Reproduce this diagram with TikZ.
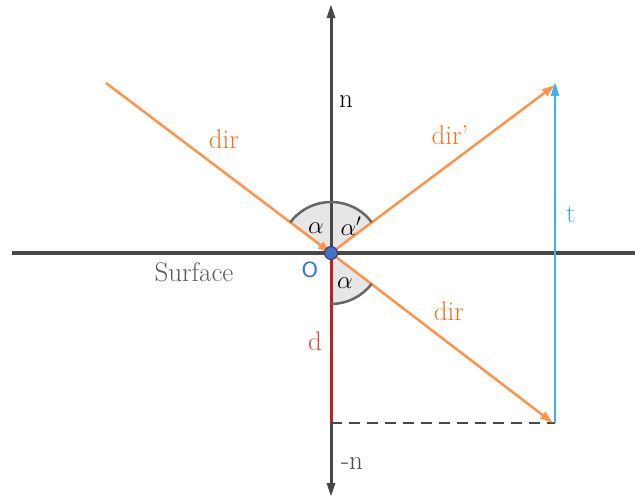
\documentclass[tikz,border=0pt]{standalone}
\usepackage{fontspec}
\newfontfamily\osans{DejaVu Sans}
\usetikzlibrary{arrows.meta}
\definecolor{axisgray}{HTML}{484848}
\definecolor{rayorange}{HTML}{FF9448}
\definecolor{txtorange}{HTML}{F0741E}
\definecolor{tblue}{HTML}{40B0F4}
\definecolor{dred}{HTML}{C41E1E}
\definecolor{dredtxt}{HTML}{E8404A}
\definecolor{arcgray}{HTML}{666666}
\definecolor{secfill}{HTML}{E6E6E6}
\definecolor{oblue}{HTML}{2F7BD0}
\definecolor{dotblue}{HTML}{4472C4}
\begin{document}
\begin{tikzpicture}[x=1pt,y=-1pt,
  lbl/.style={font=\fontsize{27}{30}\selectfont, inner sep=0pt},
  axis/.style={draw=axisgray, line width=3pt},
  ray/.style={draw=rayorange, line width=2.5pt, -{Triangle[length=13pt,width=8pt]}},
  sector/.style={fill=secfill},
  arcline/.style={draw=arcgray, line width=2.5pt}]
\useasboundingbox (0,0) rectangle (635,499);
\coordinate (O) at (331,253);
\coordinate (SL) at (12,253);
\coordinate (SR) at (635,253);
\coordinate (NT) at (331,4);
\coordinate (NB) at (331,497);
\coordinate (I) at (106,83);
\coordinate (R) at (555,85);
\coordinate (T) at (553,423);
\coordinate (D) at (331,423);
\coordinate (TB) at (555,423);
\coordinate (TT) at (555,82);
% sectors
\fill[sector] (O) -- ++(-37:51) arc[start angle=-37, end angle=-143, radius=51] -- cycle;
\fill[sector] (O) -- ++(37:51) arc[start angle=37, end angle=90, radius=51] -- cycle;
% surface and normal
\draw[axis, line width=4pt] (SL) -- (SR);
\draw[axis, {Triangle[length=14pt,width=8pt]}-{Triangle[length=14pt,width=8pt]}] (NB) -- (NT);
% d and dashed
\draw[dred, line width=3pt] (O) -- (D);
\draw[axisgray, line width=2.8pt, dash pattern=on 11pt off 7pt] (D) -- (TB);
% rays
\draw[ray] (I) -- (O);
\draw[ray] (O) -- (R);
\draw[ray] (O) -- (T);
\draw[tblue, line width=2.5pt, -{Triangle[length=14pt,width=8pt]}] (TB) -- (TT);
% arcs
\draw[arcline] (O) ++(-37:51) arc[start angle=-37, end angle=-143, radius=51];
\draw[arcline] (O) ++(37:51) arc[start angle=37, end angle=90, radius=51];
% dot
\node[circle, fill=dotblue, draw=axisgray!80!blue, line width=1pt, minimum size=13pt, inner sep=0pt] (dot) at (O) {};
% labels
\node[lbl, black] (la) at (316,228) {$\alpha$};
\node[lbl, black] (lap) at (351,226) {$\alpha'$};
\node[lbl, black] (lb) at (345,283) {$\alpha$};
\node[lbl, oblue, font=\osans\fontsize{21}{24}\selectfont] (lO) at (310,270) {O};
\node[lbl, axisgray!90] (lsurf) at (194,272) {Surface};
\node[lbl, black] (ln) at (346,102) {n};
\node[lbl, axisgray] (lmn) at (352,464) {-n};
\node[lbl, txtorange] (ldir1) at (224,139) {dir};
\node[lbl, txtorange] (ldir2) at (450,135) {dir'};
\node[lbl, txtorange] (ldir3) at (449,311) {dir};
\node[lbl, tblue] (lt) at (571,214) {t};
\node[lbl, dredtxt] (ld) at (315,341) {d};
\end{tikzpicture}
\end{document}
